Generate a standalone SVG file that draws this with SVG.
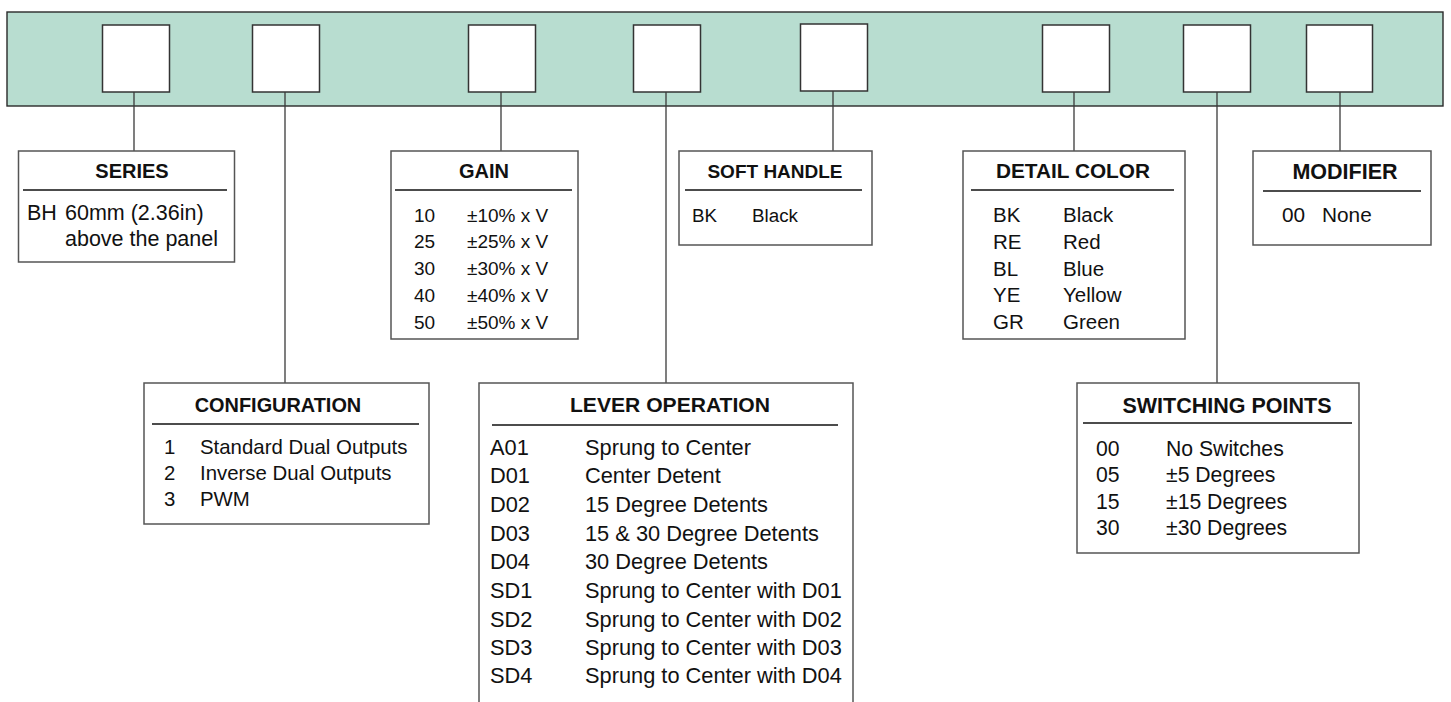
<svg xmlns="http://www.w3.org/2000/svg" width="1451" height="702" viewBox="0 0 1451 702">
<style>
text{font-family:"Liberation Sans",Arial,sans-serif;fill:#111}
.ttl{font-weight:bold;text-anchor:middle}
.panel{fill:#b8ddd0;stroke:#2a2a2a;stroke-width:1.4}
.slot{fill:#fff;stroke:#333;stroke-width:1.5}
.box{fill:#fff;stroke:#555;stroke-width:1.5}
.sep{stroke:#111;stroke-width:1.4}
.conn{stroke:#3a3a3a;stroke-width:1.3;fill:none}
</style>
<g id="panel">
<rect class="panel" x="7" y="12" width="1436" height="94"/>
<rect class="slot" x="102.5" y="25" width="67" height="67"/>
<rect class="slot" x="252.5" y="25" width="67" height="67"/>
<rect class="slot" x="468.5" y="25" width="67" height="67"/>
<rect class="slot" x="633.5" y="25" width="67" height="67"/>
<rect class="slot" x="800.5" y="24" width="67" height="67"/>
<rect class="slot" x="1042.5" y="25" width="67" height="67"/>
<rect class="slot" x="1183.5" y="25" width="67" height="67"/>
<rect class="slot" x="1306.5" y="25" width="66" height="67"/>
</g>
<g id="connectors">
<line class="conn" x1="134" y1="92" x2="134" y2="151"/>
<line class="conn" x1="285" y1="92" x2="285" y2="383"/>
<line class="conn" x1="501" y1="92" x2="501" y2="151"/>
<line class="conn" x1="666" y1="92" x2="666" y2="383"/>
<line class="conn" x1="833" y1="91" x2="833" y2="151"/>
<line class="conn" x1="1074" y1="92" x2="1074" y2="151"/>
<line class="conn" x1="1217" y1="92" x2="1217" y2="383"/>
<line class="conn" x1="1340" y1="92" x2="1340" y2="151"/>
</g>
<g id="series" font-size="21.5">
<rect class="box" x="18.5" y="151" width="216" height="111"/>
<text class="ttl" x="132" y="178" font-size="20">SERIES</text>
<line class="sep" x1="23" y1="190" x2="227" y2="190"/>
<text x="27" y="220">BH</text>
<text x="65" y="220">60mm (2.36in)</text>
<text x="65" y="246">above the panel</text>
</g>
<g id="gain" font-size="19">
<rect class="box" x="391" y="151" width="187" height="188"/>
<text class="ttl" x="484" y="178" font-size="20">GAIN</text>
<line class="sep" x1="395" y1="190" x2="572" y2="190"/>
<text x="414" y="222">10</text><text x="467" y="222">±10% x V</text>
<text x="414" y="248">25</text><text x="467" y="248">±25% x V</text>
<text x="414" y="275">30</text><text x="467" y="275">±30% x V</text>
<text x="414" y="302">40</text><text x="467" y="302">±40% x V</text>
<text x="414" y="329">50</text><text x="467" y="329">±50% x V</text>
</g>
<g id="soft-handle" font-size="18.8">
<rect class="box" x="679" y="151" width="193" height="94"/>
<text class="ttl" x="775" y="178" font-size="19">SOFT HANDLE</text>
<line class="sep" x1="685" y1="190" x2="862" y2="190"/>
<text x="692" y="222">BK</text><text x="752" y="222">Black</text>
</g>
<g id="detail-color" font-size="20.5">
<rect class="box" x="963" y="151" width="222" height="188"/>
<text class="ttl" x="1073" y="178" font-size="20.8">DETAIL COLOR</text>
<line class="sep" x1="971" y1="190" x2="1174" y2="190"/>
<text x="993" y="222">BK</text><text x="1063" y="222">Black</text>
<text x="993" y="249">RE</text><text x="1063" y="249">Red</text>
<text x="993" y="276">BL</text><text x="1063" y="276">Blue</text>
<text x="993" y="302">YE</text><text x="1063" y="302">Yellow</text>
<text x="993" y="329">GR</text><text x="1063" y="329">Green</text>
</g>
<g id="modifier" font-size="20.8">
<rect class="box" x="1253" y="151" width="178" height="94"/>
<text class="ttl" x="1345" y="179" font-size="21.5">MODIFIER</text>
<line class="sep" x1="1263" y1="191" x2="1421" y2="191"/>
<text x="1282" y="222">00</text><text x="1322" y="222">None</text>
</g>
<g id="configuration" font-size="20.4">
<rect class="box" x="144" y="383" width="285" height="141"/>
<text class="ttl" x="278" y="412" font-size="19.9">CONFIGURATION</text>
<line class="sep" x1="152" y1="424" x2="419" y2="424"/>
<text x="164" y="454">1</text><text x="200" y="454">Standard Dual Outputs</text>
<text x="164" y="480">2</text><text x="200" y="480">Inverse Dual Outputs</text>
<text x="164" y="506">3</text><text x="200" y="506">PWM</text>
</g>
<g id="lever-operation" font-size="21.8">
<path class="box" d="M479,706 V383 H853 V706"/>
<text class="ttl" x="670" y="412" font-size="21.1">LEVER OPERATION</text>
<line class="sep" x1="492" y1="425" x2="838" y2="425"/>
<text x="490" y="455">A01</text><text x="585" y="455">Sprung to Center</text>
<text x="490" y="483">D01</text><text x="585" y="483">Center Detent</text>
<text x="490" y="512">D02</text><text x="585" y="512">15 Degree Detents</text>
<text x="490" y="541">D03</text><text x="585" y="541">15 &amp; 30 Degree Detents</text>
<text x="490" y="569">D04</text><text x="585" y="569">30 Degree Detents</text>
<text x="490" y="598">SD1</text><text x="585" y="598">Sprung to Center with D01</text>
<text x="490" y="627">SD2</text><text x="585" y="627">Sprung to Center with D02</text>
<text x="490" y="655">SD3</text><text x="585" y="655">Sprung to Center with D03</text>
<text x="490" y="683">SD4</text><text x="585" y="683">Sprung to Center with D04</text>
</g>
<g id="switching-points" font-size="21.2">
<rect class="box" x="1077" y="383" width="282" height="170"/>
<text class="ttl" x="1227" y="413" font-size="21.5">SWITCHING POINTS</text>
<line class="sep" x1="1083" y1="423" x2="1352" y2="423"/>
<text x="1096" y="456">00</text><text x="1166" y="456">No Switches</text>
<text x="1096" y="482">05</text><text x="1166" y="482">±5 Degrees</text>
<text x="1096" y="509">15</text><text x="1166" y="509">±15 Degrees</text>
<text x="1096" y="535">30</text><text x="1166" y="535">±30 Degrees</text>
</g>
</svg>
